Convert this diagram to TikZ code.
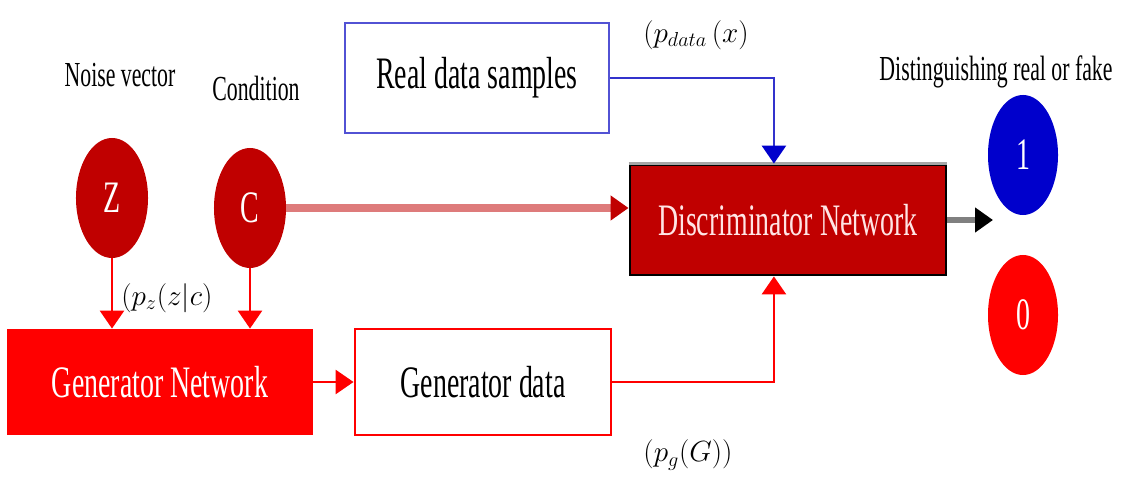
\documentclass[tikz,border=0pt]{standalone}
\usepackage{fontspec}
\setmainfont{Liberation Serif}
\usepackage{amsmath}
\usetikzlibrary{arrows.meta,positioning,calc,shapes.geometric}
\definecolor{cdark}{HTML}{C00000}
\definecolor{cred}{HTML}{FF0000}
\definecolor{clight}{HTML}{DE7B7B}
\definecolor{cblue}{HTML}{3333CC}
\definecolor{cone}{HTML}{0000CC}
\newcommand{\narrow}[1]{\scalebox{0.62}[1]{#1}}
\tikzset{
  bigtxt/.style={font=\fontsize{32}{34}\selectfont},
  smalltxt/.style={font=\fontsize{25}{27}\selectfont},
  mathtxt/.style={font=\fontsize{20}{22}\selectfont, inner sep=0pt},
  blocbox/.style={rectangle, draw=#1, line width=2pt, fill=white, bigtxt, inner sep=0pt},
  blob/.style={ellipse, fill=#1, minimum width=1.8cm, minimum height=3cm, inner sep=0pt,
               text=white, bigtxt},
  arr/.style={-{Triangle[length=4.5mm,width=6mm]}, line width=2pt, draw=#1},
}

\begin{document}
\begin{tikzpicture}[x=0.025cm, y=-0.025cm]
    \useasboundingbox (0,0) rectangle (1125,477);
    % boxes
    \node[blocbox=cblue!85, minimum width=6.6cm, minimum height=2.75cm] (real) at (477,78)
      {\narrow{Real data samples}};
    \node[blocbox=black, fill=cdark, text=white!90!red, minimum width=7.9cm, minimum height=2.75cm] (disc) at (788,220)
      {\narrow{Discriminator Network}};
    \draw[gray!70, line width=2pt] (disc.north west) -- (disc.north east);
    \node[blocbox=cred, fill=cred, text=white, minimum width=7.6cm, minimum height=2.6cm] (gnet) at (160,382)
      {\narrow{Generator Network}};
    \node[blocbox=cred, minimum width=6.4cm, minimum height=2.65cm] (gdata) at (483,382)
      {\narrow{Generator data}};
    % circles
    \node[blob=cdark] (z) at (112,198) {\narrow{Z}};
    \node[blob=cdark] (c) at (250,208) {\narrow{C}};
    \node[blob=cone, minimum width=1.75cm] (one) at (1023,155) {\narrow{1}};
    \node[blob=cred, minimum width=1.75cm] (zero) at (1023,315) {\narrow{0}};
    \coordinate (outp) at (993,220);
    % labels
    \node[smalltxt] (lnoise) at (120,75) {\narrow{Noise vector}};
    \node[smalltxt] (lcond) at (256,88) {\narrow{Condition}};
    \node[smalltxt] (lreal) at (996,72) {\narrow{Distinguishing real or fake}};
    \node[mathtxt] (lpdata) at (696,35) {$(p_{data}\,(x)$};
    \node[mathtxt, anchor=west] (lpz) at (121,298) {$(p_z(z|c)$};
    \node[mathtxt] (lpg) at (688,455) {$(p_g(G))$};
    % connectors
    \draw[arr=cblue, -{Triangle[length=4.5mm,width=6mm,color=cone]}] (real.east) -| ([xshift=-10]disc.north);
    \draw[arr=cred] (gdata.east) -| ([xshift=-10]disc.south);
    \draw[arr=cred] (z) -- (z |- gnet.north);
    \draw[arr=cred] (c) -- (c |- gnet.north);
    \draw[arr=clight, line width=5pt, -{Triangle[length=4.5mm,width=6mm,color=cdark]}] (c.east) -- (c.east -| disc.west);
    \draw[arr=cred] (gnet.east) -- (gdata.west);
    \draw[arr=gray, line width=4pt, -{Triangle[length=4.5mm,width=6mm,color=black]}] (disc.east) -- (outp);
\end{tikzpicture}
\end{document}
